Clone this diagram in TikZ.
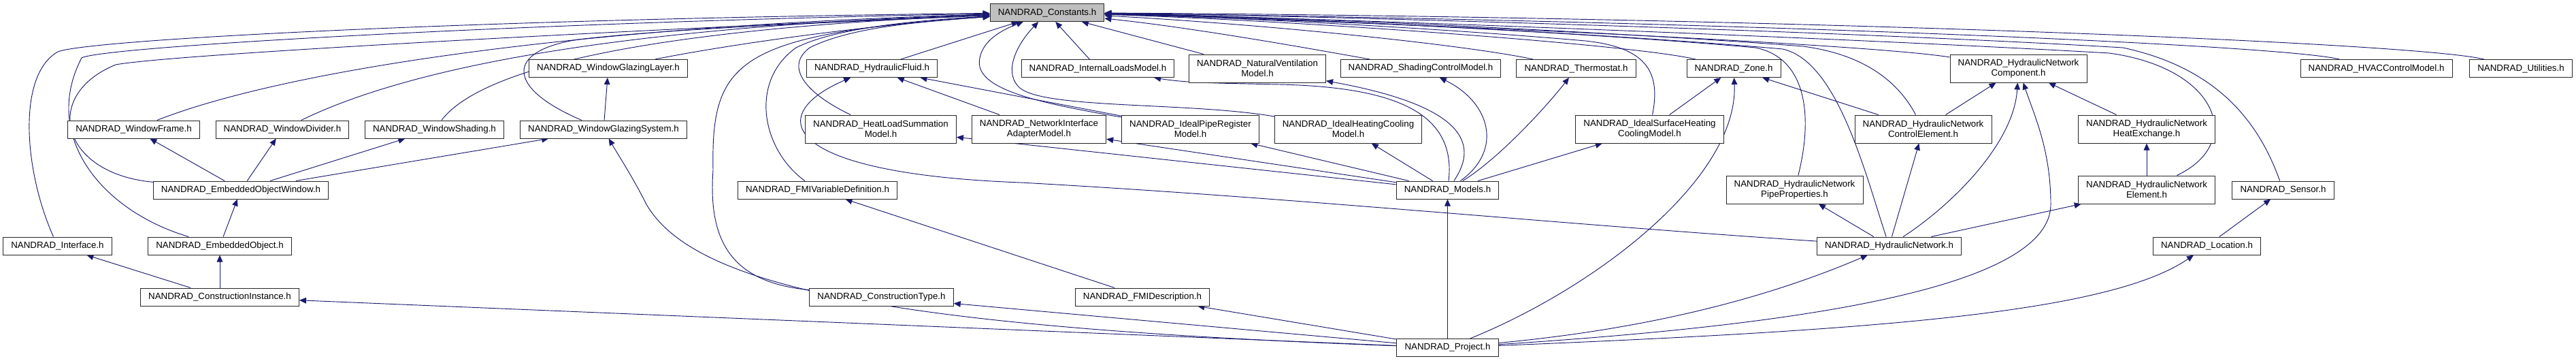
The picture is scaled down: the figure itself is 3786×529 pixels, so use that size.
\documentclass[tikz,border=0pt]{standalone}
\usepackage{fontspec}
\setmainfont{Liberation Sans}
\usetikzlibrary{arrows.meta, backgrounds}
\definecolor{edgeblue}{HTML}{191970}
\definecolor{constgray}{HTML}{BFBFBF}
\begin{document}
\begin{tikzpicture}
    [x=0.75pt, y=-0.75pt,
     header/.style={draw=black!85, line width=0.75pt, fill=white, align=center,
        font=\fontsize{10}{11.3}\selectfont, inner xsep=8.7pt, inner ysep=2pt, minimum height=19.5pt},
     twoline/.style={header, minimum height=30.75pt},
     dep/.style={draw=edgeblue, line width=0.7pt, -{Triangle[length=7.5pt, width=6.5pt]}}]
    \useasboundingbox (0, 0) rectangle (3786, 529);

    % row 1
    \node[header, fill=constgray] (const) at (1539, 18.5) {NANDRAD\_Constants.h};
    \node[header] (wgl) at (894, 100.5) {NANDRAD\_WindowGlazingLayer.h};
    \node[header] (hf) at (1281.5, 100.5) {NANDRAD\_HydraulicFluid.h};
    \node[header] (ilm) at (1613.5, 100.5) {NANDRAD\_InternalLoadsModel.h};
    \node[twoline] (nv) at (1848, 100.5) {NANDRAD\_NaturalVentilation\\Model.h};
    \node[header] (scm) at (2088, 100.5) {NANDRAD\_ShadingControlModel.h};
    \node[header] (thermo) at (2316.5, 100.5) {NANDRAD\_Thermostat.h};
    \node[header] (zone) at (2548, 100.5) {NANDRAD\_Zone.h};
    \node[twoline] (hncomp) at (2966.5, 100.5) {NANDRAD\_HydraulicNetwork\\Component.h};
    \node[header] (hvac) at (3492.5, 100.5) {NANDRAD\_HVACControlModel.h};
    \node[header] (util) at (3705, 100.5) {NANDRAD\_Utilities.h};

    % row 2
    \node[header] (wf) at (196.5, 190) {NANDRAD\_WindowFrame.h};
    \node[header] (wd) at (415, 190) {NANDRAD\_WindowDivider.h};
    \node[header] (ws) at (638.5, 190) {NANDRAD\_WindowShading.h};
    \node[header] (wgs) at (887, 190) {NANDRAD\_WindowGlazingSystem.h};
    \node[twoline] (hls) at (1294.5, 189.5) {NANDRAD\_HeatLoadSummation\\Model.h};
    \node[twoline] (nia) at (1527, 189.5) {NANDRAD\_NetworkInterface\\AdapterModel.h};
    \node[twoline] (ipr) at (1749.5, 189.5) {NANDRAD\_IdealPipeRegister\\Model.h};
    \node[twoline] (ihc) at (1981.5, 189.5) {NANDRAD\_IdealHeatingCooling\\Model.h};
    \node[twoline] (ishc) at (2424.5, 189.5) {NANDRAD\_IdealSurfaceHeating\\CoolingModel.h};
    \node[twoline] (hnce) at (2826.5, 189.5) {NANDRAD\_HydraulicNetwork\\ControlElement.h};
    \node[twoline] (hnhe) at (3155, 189.5) {NANDRAD\_HydraulicNetwork\\HeatExchange.h};

    % row 3
    \node[header] (eow) at (354, 279) {NANDRAD\_EmbeddedObjectWindow.h};
    \node[header] (fmivd) at (1201.5, 279) {NANDRAD\_FMIVariableDefinition.h};
    \node[header] (models) at (2127.5, 279) {NANDRAD\_Models.h};
    \node[twoline] (pipe) at (2637.5, 278.5) {NANDRAD\_HydraulicNetwork\\PipeProperties.h};
    \node[twoline] (hnel) at (3155, 278.5) {NANDRAD\_HydraulicNetwork\\Element.h};
    \node[header] (sensor) at (3355.5, 279) {NANDRAD\_Sensor.h};

    % row 4
    \node[header] (iface) at (84.5, 361) {NANDRAD\_Interface.h};
    \node[header] (eo) at (323, 361) {NANDRAD\_EmbeddedObject.h};
    \node[header] (hn) at (2776.5, 361) {NANDRAD\_HydraulicNetwork.h};
    \node[header] (loc) at (3243.5, 361) {NANDRAD\_Location.h};

    % row 5 and 6
    \node[header] (ci) at (323, 436) {NANDRAD\_ConstructionInstance.h};
    \node[header] (ctype) at (1295.5, 436) {NANDRAD\_ConstructionType.h};
    \node[header] (fmid) at (1679, 436) {NANDRAD\_FMIDescription.h};
    \node[header] (proj) at (2127.5, 510.5) {NANDRAD\_Project.h};

    \begin{scope}[on background layer]
    % everything that includes the constants
    \draw [dep] (iface) .. controls (35, 250) and (25, 110) .. (85, 76) .. controls (130, 58) and (700, 28) .. (const);
    \draw [dep] (eo) .. controls (150, 310) and (60, 200) .. (120, 85) .. controls (150, 68) and (800, 32) .. (const);
    \draw [dep] (eow) .. controls (90, 255) and (60, 140) .. (170, 95) .. controls (250, 80) and (900, 45) .. (const);
    \draw [dep] (wf) .. controls (400, 110) and (800, 40) .. (const);
    \draw [dep] (wd) .. controls (600, 100) and (900, 40) .. (const);
    \draw [dep] (ws) .. controls (700, 110) and (900, 45) .. (const);
    \draw [dep] (wgs) .. controls (745, 130) and (740, 75) .. (850, 58) .. controls (1000, 40) and (1300, 30) .. (const);
    \draw [dep] (wgl) .. controls (1100, 60) and (1300, 35) .. (const);
    \draw [dep] (ctype) .. controls (1080, 415) and (1040, 360) .. (1048, 250) .. controls (1045, 90) and (1080, 50) .. (const);
    \draw [dep] (fmivd) .. controls (1120, 220) and (1100, 120) .. (1170, 70) .. controls (1230, 40) and (1350, 30) .. (const);
    \draw [dep] (hls) .. controls (1190, 140) and (1150, 100) .. (1190, 70) .. controls (1250, 40) and (1350, 32) .. (const);
    \draw [dep] (hf) -- (const);
    \draw [dep] (ipr) .. controls (1520, 150) and (1430, 130) .. (1440, 85) .. controls (1445, 60) and (1470, 45) .. (const);
    \draw [dep] (ihc) .. controls (1750, 150) and (1540, 160) .. (1500, 130) .. controls (1475, 110) and (1490, 70) .. (const);
    \draw [dep] (ilm) -- (const);
    \draw [dep] (nv) -- (const);
    \draw [dep] (scm) .. controls (1930, 72) and (1750, 40) .. (const);
    \draw [dep] (thermo) .. controls (2150, 65) and (1850, 35) .. (const);
    \draw [dep] (zone) .. controls (2400, 65) and (1900, 30) .. (const);
    \draw [dep] (ishc) .. controls (2440, 110) and (2425, 70) .. (2330, 60) .. controls (2100, 40) and (1800, 25) .. (const);
    \draw [dep] (pipe) .. controls (2665, 170) and (2655, 85) .. (2580, 70) .. controls (2300, 45) and (1850, 25) .. (const);
    \draw [dep] (hn) .. controls (2740, 250) and (2700, 90) .. (2620, 72) .. controls (2350, 48) and (1850, 24) .. (const);
    \draw [dep] (hnce) .. controls (2790, 120) and (2740, 80) .. (2650, 68) .. controls (2350, 45) and (1850, 23) .. (const);
    \draw [dep] (hncomp) .. controls (2750, 65) and (2100, 35) .. (const);
    \draw [dep] (hnel) .. controls (3300, 210) and (3260, 100) .. (3100, 78) .. controls (2700, 55) and (1900, 25) .. (const);
    \draw [dep] (sensor) .. controls (3320, 180) and (3260, 100) .. (3120, 70) .. controls (2700, 45) and (1900, 22) .. (const);
    \draw [dep] (hvac) .. controls (3350, 65) and (2500, 30) .. (const);
    \draw [dep] (util) .. controls (3550, 62) and (2600, 25) .. (const);

    % window parts
    \draw [dep] (wgs) -- (wgl);
    \draw [dep] (eow) -- (wf);
    \draw [dep] (eow) -- (wd);
    \draw [dep] (eow) -- (ws);
    \draw [dep] (eow) -- (wgs);
    \draw [dep] (eo) -- (eow);
    \draw [dep] (ci) -- (iface);
    \draw [dep] (ci) -- (eo);

    % fmi
    \draw [dep] (fmid) -- (fmivd);

    % models
    \draw [dep] (models) -- (hls);
    \draw [dep] (models) -- (nia);
    \draw [dep] (models) -- (ipr);
    \draw [dep] (models) -- (ihc);
    \draw [dep] (models) -- (ishc);
    \draw [dep] (models) .. controls (2140, 170) and (2060, 128) .. (1880, 124) .. controls (1790, 122) and (1745, 122) .. (ilm);
    \draw [dep] (models) .. controls (2175, 210) and (2150, 155) .. (nv);
    \draw [dep] (models) .. controls (2210, 220) and (2190, 150) .. (scm);
    \draw [dep] (models) .. controls (2200, 235) and (2270, 160) .. (thermo);
    \draw [dep] (nia) -- (hf);
    \draw [dep] (ipr) -- (hf);
    \draw [dep] (ishc) -- (zone);

    % hydraulic network
    \draw [dep] (hn) .. controls (2300, 330) and (1900, 290) .. (1500, 268) .. controls (1150, 255) and (1120, 170) .. (hf);
    \draw [dep] (hn) -- (pipe);
    \draw [dep] (hn) -- (hnce);
    \draw [dep] (hn) .. controls (2870, 300) and (2960, 210) .. (hncomp);
    \draw [dep] (hn) -- (hnel);
    \draw [dep] (hnel) -- (hnhe);
    \draw [dep] (hnhe) -- (hncomp);
    \draw [dep] (hnce) -- (hncomp);
    \draw [dep] (hnce) -- (zone);
    \draw [dep] (loc) -- (sensor);

    % project
    \draw [dep] (proj) -- (ci);
    \draw [dep] (proj) .. controls (1300, 480) and (1020, 420) .. (950, 300) .. controls (930, 260) and (910, 230) .. (wgs);
    \draw [dep] (proj) -- (ctype);
    \draw [dep] (proj) -- (fmid);
    \draw [dep] (proj) -- (models);
    \draw [dep] (proj) .. controls (2350, 420) and (2555, 260) .. (zone);
    \draw [dep] (proj) .. controls (2400, 485) and (2580, 445) .. (hn);
    \draw [dep] (proj) .. controls (2600, 480) and (3014, 430) .. (3014, 300) .. controls (3014, 220) and (2990, 170) .. (hncomp);
    \draw [dep] (proj) .. controls (2750, 485) and (3100, 460) .. (loc);
    \end{scope}
\end{tikzpicture}
\end{document}
